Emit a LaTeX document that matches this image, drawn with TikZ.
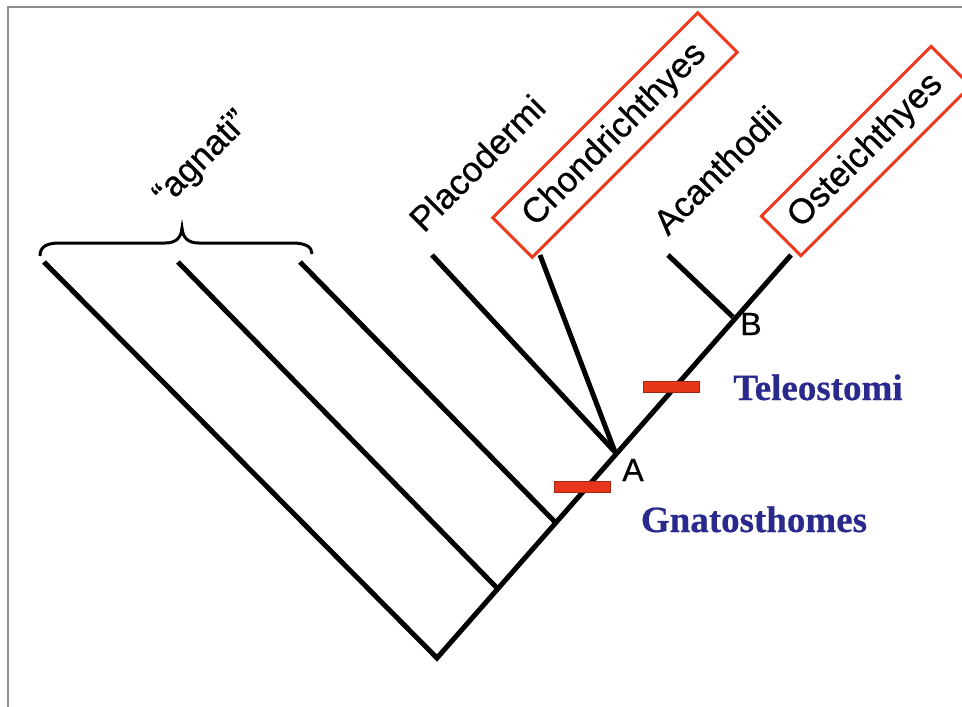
\documentclass[tikz,border=0pt]{standalone}
\usepackage{fontspec}
\setmainfont{Liberation Sans}
\newfontfamily\labelfont{Liberation Sans}[FakeBold=0.6]
\newfontfamily\blueserif{Liberation Serif Bold}[FakeBold=0.5]
\definecolor{boxred}{HTML}{EE3B1F}
\definecolor{barred}{HTML}{E8361B}
\definecolor{navy}{HTML}{2A2A8E}
\definecolor{framegray}{HTML}{8C8C8C}
\begin{document}
\begin{tikzpicture}[x=1pt,y=-1pt,
  branch/.style={line width=5pt, black},
  taxon/.style={rotate=45, font=\labelfont\fontsize{35}{40}\selectfont, inner sep=0pt},
  boxed/.style={taxon, draw=boxred, line width=3pt, minimum height=56pt},
  nodelabel/.style={font=\labelfont\fontsize{32}{38}\selectfont, inner sep=0pt},
  clade/.style={font=\blueserif\fontsize{37}{42}\selectfont, text=navy, inner sep=0pt, anchor=base},
  synapo/.style={fill=barred, draw=barred!70!black, line width=0.6pt, minimum width=56pt, minimum height=11pt, inner sep=0pt}
]
\useasboundingbox (0,0) rectangle (962,707);
\clip (0,0) rectangle (962,707);
\fill[white] (0,0) rectangle (962,707);
\draw[framegray, line width=2.5pt] (8,707) -- (8,7) -- (962,7);

% tree coordinates
\coordinate (R) at (437,658);
\coordinate (n1) at (497,588);
\coordinate (n2) at (555,522);
\coordinate (A) at (615,452);
\coordinate (B) at (733,317);
\coordinate (tOst) at (791,255);
\coordinate (tAg1) at (44,262);
\coordinate (tAg2) at (178,262);
\coordinate (tAg3) at (300,262);
\coordinate (tPla) at (432,255);
\coordinate (tCho) at (540,255);
\coordinate (tAca) at (668,255);

% branches
\draw[branch, line join=miter] (tAg1) -- (R) -- (tOst);
\draw[branch] (n1) -- (tAg2);
\draw[branch] (n2) -- (tAg3);
\draw[branch] (A) -- (tPla);
\draw[branch] (A) -- (tCho);
\draw[branch] (B) -- (tAca);

% brace
\draw[line width=3pt] (40,256) .. controls (40,247) and (46,243) .. (60,243) -- (165,243) .. controls (176,243) and (181,238) .. (182,228) .. controls (183,238) and (188,243) .. (199,243) -- (292,243) .. controls (306,243) and (312,247) .. (312,254);

% taxon labels
\node[taxon] (agn) at (202,159) {“agnati”};
\node[taxon] (pla) at (477,163) {Placodermi};
\node[boxed, minimum width=290pt] (cho) at (615,135) {Chondrichthyes};
\node[taxon] (aca) at (717,170) {Acanthodii};
\node[boxed, minimum width=240pt] (ost) at (866,151) {Osteichthyes};

% node labels
\node[nodelabel] (lA) at (633,470) {A};
\node[nodelabel] (lB) at (751,324) {B};

% synapomorphy bars
\node[synapo] (bar1) at (671,386.5) {};
\node[synapo] (bar2) at (582.5,486.5) {};

% clade names
\node[clade] (tel) at (818,400) {Teleostomi};
\node[clade] (gna) at (754,532) {Gnatosthomes};
\end{tikzpicture}
\end{document}
